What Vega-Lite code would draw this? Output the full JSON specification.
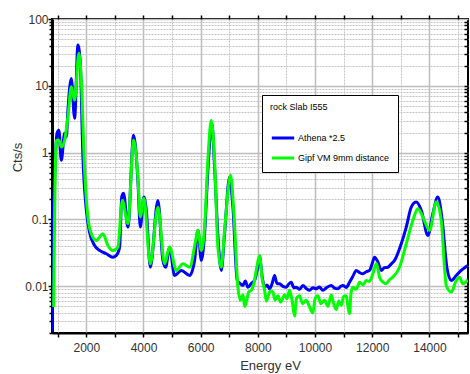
{
  "$schema": "https://vega.github.io/schema/vega-lite/v6.json",
  "width": 416,
  "height": 314,
  "autosize": {"type": "none"},
  "padding": {"left": 52, "top": 19, "right": 2, "bottom": 41},
  "background": "white",
  "config": {
    "view": {"stroke": "black", "strokeWidth": 2},
    "font": "Liberation Sans",
    "axis": {"labelFont": "Liberation Sans", "titleFont": "Liberation Sans", "labelColor": "#333", "titleColor": "#333", "titleFontWeight": "normal"}
  },
  "datasets": {
    "spec": [
      {"E": 800, "v": 0.0021, "s": "Athena *2.5"},
      {"E": 820, "v": 0.0386, "s": "Athena *2.5"},
      {"E": 891, "v": 0.385, "s": "Athena *2.5"},
      {"E": 972, "v": 1.93, "s": "Athena *2.5"},
      {"E": 1042, "v": 2.17, "s": "Athena *2.5"},
      {"E": 1126, "v": 0.769, "s": "Athena *2.5"},
      {"E": 1241, "v": 1.95, "s": "Athena *2.5"},
      {"E": 1301, "v": 1.72, "s": "Athena *2.5"},
      {"E": 1357, "v": 4.32, "s": "Athena *2.5"},
      {"E": 1475, "v": 12.9, "s": "Athena *2.5"},
      {"E": 1591, "v": 3.28, "s": "Athena *2.5"},
      {"E": 1706, "v": 40.7, "s": "Athena *2.5"},
      {"E": 1790, "v": 21.9, "s": "Athena *2.5"},
      {"E": 1881, "v": 0.862, "s": "Athena *2.5"},
      {"E": 2000, "v": 0.14, "s": "Athena *2.5"},
      {"E": 2115, "v": 0.064, "s": "Athena *2.5"},
      {"E": 2290, "v": 0.0409, "s": "Athena *2.5"},
      {"E": 2465, "v": 0.0344, "s": "Athena *2.5"},
      {"E": 2699, "v": 0.0307, "s": "Athena *2.5"},
      {"E": 2930, "v": 0.0273, "s": "Athena *2.5"},
      {"E": 3049, "v": 0.029, "s": "Athena *2.5"},
      {"E": 3165, "v": 0.0386, "s": "Athena *2.5"},
      {"E": 3240, "v": 0.22, "s": "Athena *2.5"},
      {"E": 3304, "v": 0.246, "s": "Athena *2.5"},
      {"E": 3455, "v": 0.0769, "s": "Athena *2.5"},
      {"E": 3654, "v": 1.82, "s": "Athena *2.5"},
      {"E": 3804, "v": 0.385, "s": "Athena *2.5"},
      {"E": 3888, "v": 0.0769, "s": "Athena *2.5"},
      {"E": 4014, "v": 0.217, "s": "Athena *2.5"},
      {"E": 4098, "v": 0.137, "s": "Athena *2.5"},
      {"E": 4238, "v": 0.0193, "s": "Athena *2.5"},
      {"E": 4504, "v": 0.193, "s": "Athena *2.5"},
      {"E": 4679, "v": 0.0244, "s": "Athena *2.5"},
      {"E": 4773, "v": 0.0193, "s": "Athena *2.5"},
      {"E": 4913, "v": 0.038, "s": "Athena *2.5"},
      {"E": 5088, "v": 0.0145, "s": "Athena *2.5"},
      {"E": 5322, "v": 0.0173, "s": "Athena *2.5"},
      {"E": 5612, "v": 0.0145, "s": "Athena *2.5"},
      {"E": 5787, "v": 0.0244, "s": "Athena *2.5"},
      {"E": 5903, "v": 0.069, "s": "Athena *2.5"},
      {"E": 6022, "v": 0.0244, "s": "Athena *2.5"},
      {"E": 6137, "v": 0.0612, "s": "Athena *2.5"},
      {"E": 6252, "v": 0.545, "s": "Athena *2.5"},
      {"E": 6392, "v": 2.73, "s": "Athena *2.5"},
      {"E": 6486, "v": 0.611, "s": "Athena *2.5"},
      {"E": 6602, "v": 0.0578, "s": "Athena *2.5"},
      {"E": 6721, "v": 0.0173, "s": "Athena *2.5"},
      {"E": 6836, "v": 0.0612, "s": "Athena *2.5"},
      {"E": 7011, "v": 0.432, "s": "Athena *2.5"},
      {"E": 7127, "v": 0.153, "s": "Athena *2.5"},
      {"E": 7280, "v": 0.0122, "s": "Athena *2.5"},
      {"E": 7380, "v": 0.011, "s": "Athena *2.5"},
      {"E": 7476, "v": 0.0103, "s": "Athena *2.5"},
      {"E": 7560, "v": 0.012, "s": "Athena *2.5"},
      {"E": 7651, "v": 0.0097, "s": "Athena *2.5"},
      {"E": 7770, "v": 0.011, "s": "Athena *2.5"},
      {"E": 7885, "v": 0.0122, "s": "Athena *2.5"},
      {"E": 7970, "v": 0.017, "s": "Athena *2.5"},
      {"E": 8060, "v": 0.0273, "s": "Athena *2.5"},
      {"E": 8150, "v": 0.014, "s": "Athena *2.5"},
      {"E": 8236, "v": 0.0097, "s": "Athena *2.5"},
      {"E": 8320, "v": 0.0105, "s": "Athena *2.5"},
      {"E": 8410, "v": 0.0092, "s": "Athena *2.5"},
      {"E": 8500, "v": 0.011, "s": "Athena *2.5"},
      {"E": 8585, "v": 0.0145, "s": "Athena *2.5"},
      {"E": 8670, "v": 0.011, "s": "Athena *2.5"},
      {"E": 8760, "v": 0.0109, "s": "Athena *2.5"},
      {"E": 8875, "v": 0.01, "s": "Athena *2.5"},
      {"E": 8994, "v": 0.0097, "s": "Athena *2.5"},
      {"E": 9080, "v": 0.0108, "s": "Athena *2.5"},
      {"E": 9169, "v": 0.0115, "s": "Athena *2.5"},
      {"E": 9260, "v": 0.0095, "s": "Athena *2.5"},
      {"E": 9344, "v": 0.0097, "s": "Athena *2.5"},
      {"E": 9460, "v": 0.009, "s": "Athena *2.5"},
      {"E": 9574, "v": 0.0103, "s": "Athena *2.5"},
      {"E": 9700, "v": 0.0092, "s": "Athena *2.5"},
      {"E": 9809, "v": 0.0087, "s": "Athena *2.5"},
      {"E": 9924, "v": 0.0095, "s": "Athena *2.5"},
      {"E": 10043, "v": 0.0092, "s": "Athena *2.5"},
      {"E": 10150, "v": 0.0098, "s": "Athena *2.5"},
      {"E": 10274, "v": 0.0087, "s": "Athena *2.5"},
      {"E": 10420, "v": 0.0097, "s": "Athena *2.5"},
      {"E": 10568, "v": 0.0103, "s": "Athena *2.5"},
      {"E": 10680, "v": 0.0094, "s": "Athena *2.5"},
      {"E": 10798, "v": 0.0092, "s": "Athena *2.5"},
      {"E": 10900, "v": 0.01, "s": "Athena *2.5"},
      {"E": 10973, "v": 0.0103, "s": "Athena *2.5"},
      {"E": 11090, "v": 0.0096, "s": "Athena *2.5"},
      {"E": 11207, "v": 0.0115, "s": "Athena *2.5"},
      {"E": 11320, "v": 0.014, "s": "Athena *2.5"},
      {"E": 11442, "v": 0.0173, "s": "Athena *2.5"},
      {"E": 11560, "v": 0.016, "s": "Athena *2.5"},
      {"E": 11672, "v": 0.0154, "s": "Athena *2.5"},
      {"E": 11790, "v": 0.0165, "s": "Athena *2.5"},
      {"E": 11907, "v": 0.0173, "s": "Athena *2.5"},
      {"E": 12000, "v": 0.022, "s": "Athena *2.5"},
      {"E": 12081, "v": 0.0273, "s": "Athena *2.5"},
      {"E": 12200, "v": 0.023, "s": "Athena *2.5"},
      {"E": 12316, "v": 0.0173, "s": "Athena *2.5"},
      {"E": 12430, "v": 0.019, "s": "Athena *2.5"},
      {"E": 12547, "v": 0.0193, "s": "Athena *2.5"},
      {"E": 12660, "v": 0.0215, "s": "Athena *2.5"},
      {"E": 12781, "v": 0.0244, "s": "Athena *2.5"},
      {"E": 13016, "v": 0.0434, "s": "Athena *2.5"},
      {"E": 13191, "v": 0.0769, "s": "Athena *2.5"},
      {"E": 13366, "v": 0.153, "s": "Athena *2.5"},
      {"E": 13541, "v": 0.182, "s": "Athena *2.5"},
      {"E": 13716, "v": 0.137, "s": "Athena *2.5"},
      {"E": 13946, "v": 0.0578, "s": "Athena *2.5"},
      {"E": 14120, "v": 0.122, "s": "Athena *2.5"},
      {"E": 14295, "v": 0.217, "s": "Athena *2.5"},
      {"E": 14449, "v": 0.097, "s": "Athena *2.5"},
      {"E": 14610, "v": 0.0193, "s": "Athena *2.5"},
      {"E": 14764, "v": 0.0122, "s": "Athena *2.5"},
      {"E": 14939, "v": 0.0145, "s": "Athena *2.5"},
      {"E": 15113, "v": 0.0173, "s": "Athena *2.5"},
      {"E": 15345, "v": 0.0205, "s": "Athena *2.5"},

      {"E": 857, "v": 0.0049, "s": "Gipf VM 9mm distance"},
      {"E": 891, "v": 0.109, "s": "Gipf VM 9mm distance"},
      {"E": 951, "v": 1.53, "s": "Gipf VM 9mm distance"},
      {"E": 1042, "v": 1.53, "s": "Gipf VM 9mm distance"},
      {"E": 1126, "v": 1.22, "s": "Gipf VM 9mm distance"},
      {"E": 1241, "v": 1.53, "s": "Gipf VM 9mm distance"},
      {"E": 1357, "v": 3.43, "s": "Gipf VM 9mm distance"},
      {"E": 1475, "v": 9.66, "s": "Gipf VM 9mm distance"},
      {"E": 1591, "v": 6.11, "s": "Gipf VM 9mm distance"},
      {"E": 1741, "v": 30.6, "s": "Gipf VM 9mm distance"},
      {"E": 1825, "v": 12.2, "s": "Gipf VM 9mm distance"},
      {"E": 1941, "v": 0.545, "s": "Gipf VM 9mm distance"},
      {"E": 2056, "v": 0.109, "s": "Gipf VM 9mm distance"},
      {"E": 2175, "v": 0.0612, "s": "Gipf VM 9mm distance"},
      {"E": 2350, "v": 0.0486, "s": "Gipf VM 9mm distance"},
      {"E": 2580, "v": 0.0612, "s": "Gipf VM 9mm distance"},
      {"E": 2755, "v": 0.0409, "s": "Gipf VM 9mm distance"},
      {"E": 2930, "v": 0.0344, "s": "Gipf VM 9mm distance"},
      {"E": 3105, "v": 0.0386, "s": "Gipf VM 9mm distance"},
      {"E": 3224, "v": 0.153, "s": "Gipf VM 9mm distance"},
      {"E": 3259, "v": 0.193, "s": "Gipf VM 9mm distance"},
      {"E": 3455, "v": 0.0865, "s": "Gipf VM 9mm distance"},
      {"E": 3654, "v": 1.53, "s": "Gipf VM 9mm distance"},
      {"E": 3804, "v": 0.432, "s": "Gipf VM 9mm distance"},
      {"E": 3888, "v": 0.109, "s": "Gipf VM 9mm distance"},
      {"E": 4014, "v": 0.207, "s": "Gipf VM 9mm distance"},
      {"E": 4238, "v": 0.0217, "s": "Gipf VM 9mm distance"},
      {"E": 4504, "v": 0.153, "s": "Gipf VM 9mm distance"},
      {"E": 4738, "v": 0.0217, "s": "Gipf VM 9mm distance"},
      {"E": 4913, "v": 0.0386, "s": "Gipf VM 9mm distance"},
      {"E": 5147, "v": 0.0173, "s": "Gipf VM 9mm distance"},
      {"E": 5378, "v": 0.0217, "s": "Gipf VM 9mm distance"},
      {"E": 5612, "v": 0.0193, "s": "Gipf VM 9mm distance"},
      {"E": 5847, "v": 0.0545, "s": "Gipf VM 9mm distance"},
      {"E": 5903, "v": 0.0687, "s": "Gipf VM 9mm distance"},
      {"E": 6022, "v": 0.0344, "s": "Gipf VM 9mm distance"},
      {"E": 6137, "v": 0.0769, "s": "Gipf VM 9mm distance"},
      {"E": 6252, "v": 0.769, "s": "Gipf VM 9mm distance"},
      {"E": 6371, "v": 3.06, "s": "Gipf VM 9mm distance"},
      {"E": 6486, "v": 0.769, "s": "Gipf VM 9mm distance"},
      {"E": 6602, "v": 0.0386, "s": "Gipf VM 9mm distance"},
      {"E": 6721, "v": 0.0193, "s": "Gipf VM 9mm distance"},
      {"E": 6836, "v": 0.0687, "s": "Gipf VM 9mm distance"},
      {"E": 7046, "v": 0.458, "s": "Gipf VM 9mm distance"},
      {"E": 7162, "v": 0.122, "s": "Gipf VM 9mm distance"},
      {"E": 7302, "v": 0.0097, "s": "Gipf VM 9mm distance"},
      {"E": 7390, "v": 0.0062, "s": "Gipf VM 9mm distance"},
      {"E": 7476, "v": 0.0075, "s": "Gipf VM 9mm distance"},
      {"E": 7540, "v": 0.005, "s": "Gipf VM 9mm distance"},
      {"E": 7595, "v": 0.0058, "s": "Gipf VM 9mm distance"},
      {"E": 7680, "v": 0.0082, "s": "Gipf VM 9mm distance"},
      {"E": 7770, "v": 0.0087, "s": "Gipf VM 9mm distance"},
      {"E": 7850, "v": 0.0105, "s": "Gipf VM 9mm distance"},
      {"E": 7950, "v": 0.018, "s": "Gipf VM 9mm distance"},
      {"E": 8060, "v": 0.029, "s": "Gipf VM 9mm distance"},
      {"E": 8150, "v": 0.013, "s": "Gipf VM 9mm distance"},
      {"E": 8236, "v": 0.0087, "s": "Gipf VM 9mm distance"},
      {"E": 8300, "v": 0.006, "s": "Gipf VM 9mm distance"},
      {"E": 8351, "v": 0.0069, "s": "Gipf VM 9mm distance"},
      {"E": 8430, "v": 0.0085, "s": "Gipf VM 9mm distance"},
      {"E": 8525, "v": 0.0082, "s": "Gipf VM 9mm distance"},
      {"E": 8600, "v": 0.0062, "s": "Gipf VM 9mm distance"},
      {"E": 8700, "v": 0.0072, "s": "Gipf VM 9mm distance"},
      {"E": 8800, "v": 0.0058, "s": "Gipf VM 9mm distance"},
      {"E": 8935, "v": 0.0075, "s": "Gipf VM 9mm distance"},
      {"E": 9020, "v": 0.0065, "s": "Gipf VM 9mm distance"},
      {"E": 9109, "v": 0.0087, "s": "Gipf VM 9mm distance"},
      {"E": 9200, "v": 0.006, "s": "Gipf VM 9mm distance"},
      {"E": 9284, "v": 0.0036, "s": "Gipf VM 9mm distance"},
      {"E": 9350, "v": 0.0065, "s": "Gipf VM 9mm distance"},
      {"E": 9459, "v": 0.0072, "s": "Gipf VM 9mm distance"},
      {"E": 9560, "v": 0.0055, "s": "Gipf VM 9mm distance"},
      {"E": 9693, "v": 0.0062, "s": "Gipf VM 9mm distance"},
      {"E": 9800, "v": 0.005, "s": "Gipf VM 9mm distance"},
      {"E": 9924, "v": 0.004, "s": "Gipf VM 9mm distance"},
      {"E": 10000, "v": 0.0065, "s": "Gipf VM 9mm distance"},
      {"E": 10099, "v": 0.0072, "s": "Gipf VM 9mm distance"},
      {"E": 10200, "v": 0.0055, "s": "Gipf VM 9mm distance"},
      {"E": 10333, "v": 0.0062, "s": "Gipf VM 9mm distance"},
      {"E": 10450, "v": 0.005, "s": "Gipf VM 9mm distance"},
      {"E": 10568, "v": 0.0075, "s": "Gipf VM 9mm distance"},
      {"E": 10650, "v": 0.0055, "s": "Gipf VM 9mm distance"},
      {"E": 10743, "v": 0.0045, "s": "Gipf VM 9mm distance"},
      {"E": 10830, "v": 0.006, "s": "Gipf VM 9mm distance"},
      {"E": 10917, "v": 0.0052, "s": "Gipf VM 9mm distance"},
      {"E": 11000, "v": 0.007, "s": "Gipf VM 9mm distance"},
      {"E": 11092, "v": 0.0072, "s": "Gipf VM 9mm distance"},
      {"E": 11150, "v": 0.005, "s": "Gipf VM 9mm distance"},
      {"E": 11207, "v": 0.0039, "s": "Gipf VM 9mm distance"},
      {"E": 11260, "v": 0.008, "s": "Gipf VM 9mm distance"},
      {"E": 11323, "v": 0.0097, "s": "Gipf VM 9mm distance"},
      {"E": 11440, "v": 0.009, "s": "Gipf VM 9mm distance"},
      {"E": 11557, "v": 0.0115, "s": "Gipf VM 9mm distance"},
      {"E": 11680, "v": 0.0105, "s": "Gipf VM 9mm distance"},
      {"E": 11792, "v": 0.0122, "s": "Gipf VM 9mm distance"},
      {"E": 11900, "v": 0.0118, "s": "Gipf VM 9mm distance"},
      {"E": 12022, "v": 0.0154, "s": "Gipf VM 9mm distance"},
      {"E": 12150, "v": 0.022, "s": "Gipf VM 9mm distance"},
      {"E": 12256, "v": 0.0137, "s": "Gipf VM 9mm distance"},
      {"E": 12380, "v": 0.0115, "s": "Gipf VM 9mm distance"},
      {"E": 12491, "v": 0.0109, "s": "Gipf VM 9mm distance"},
      {"E": 12600, "v": 0.0125, "s": "Gipf VM 9mm distance"},
      {"E": 12722, "v": 0.0137, "s": "Gipf VM 9mm distance"},
      {"E": 12956, "v": 0.0193, "s": "Gipf VM 9mm distance"},
      {"E": 13191, "v": 0.0434, "s": "Gipf VM 9mm distance"},
      {"E": 13422, "v": 0.097, "s": "Gipf VM 9mm distance"},
      {"E": 13597, "v": 0.145, "s": "Gipf VM 9mm distance"},
      {"E": 13772, "v": 0.109, "s": "Gipf VM 9mm distance"},
      {"E": 14005, "v": 0.0687, "s": "Gipf VM 9mm distance"},
      {"E": 14239, "v": 0.182, "s": "Gipf VM 9mm distance"},
      {"E": 14414, "v": 0.097, "s": "Gipf VM 9mm distance"},
      {"E": 14589, "v": 0.0103, "s": "Gipf VM 9mm distance"},
      {"E": 14764, "v": 0.0082, "s": "Gipf VM 9mm distance"},
      {"E": 14939, "v": 0.0122, "s": "Gipf VM 9mm distance"},
      {"E": 15054, "v": 0.0137, "s": "Gipf VM 9mm distance"},
      {"E": 15170, "v": 0.0109, "s": "Gipf VM 9mm distance"},
      {"E": 15345, "v": 0.0125, "s": "Gipf VM 9mm distance"}
    ],
    "anchor": [{"E": 8000, "v": 1}]
  },
  "resolve": {"axis": {"x": "independent", "y": "independent"}},
  "layer": [
    {
      "data": {"name": "anchor"},
      "mark": {"type": "point", "opacity": 0},
      "encoding": {
        "x": {"field": "E", "type": "quantitative",
          "scale": {"domain": [800, 15350], "nice": false, "zero": false},
          "axis": {"orient": "bottom", "values": [1000, 3000, 5000, 7000, 9000, 11000, 13000, 15000], "labels": false, "title": null, "domain": false, "tickSize": 4, "tickWidth": 1.5, "tickColor": "black",
            "grid": true, "gridColor": "#c4c4c4", "gridDash": [2, 1], "gridWidth": 1}},
        "y": {"field": "v", "type": "quantitative",
          "scale": {"type": "log", "domain": [0.002, 100], "nice": false},
          "axis": {"orient": "left", "values": [0.002, 0.003, 0.004, 0.005, 0.006, 0.007, 0.008, 0.009, 0.02, 0.03, 0.04, 0.05, 0.06, 0.07, 0.08, 0.09, 0.2, 0.3, 0.4, 0.5, 0.6, 0.7, 0.8, 0.9, 2, 3, 4, 5, 6, 7, 8, 9, 20, 30, 40, 50, 60, 70, 80, 90], "labels": false, "title": null, "domain": false, "tickSize": 3, "tickWidth": 1.5, "tickColor": "black",
            "grid": true, "gridColor": "#c4c4c4", "gridDash": [2, 1], "gridWidth": 1}}
      }
    },
    {
      "data": {"name": "anchor"},
      "mark": {"type": "point", "opacity": 0},
      "encoding": {
        "x": {"field": "E", "type": "quantitative",
          "scale": {"domain": [800, 15350], "nice": false, "zero": false},
          "axis": {"orient": "top", "values": [1000, 2000, 3000, 4000, 5000, 6000, 7000, 8000, 9000, 10000, 11000, 12000, 13000, 14000, 15000], "labels": false, "title": null, "domain": false, "grid": false, "tickSize": 4, "tickWidth": 1.5, "tickColor": "black"}},
        "y": {"field": "v", "type": "quantitative",
          "scale": {"type": "log", "domain": [0.002, 100], "nice": false},
          "axis": {"orient": "right", "values": [0.003, 0.004, 0.005, 0.006, 0.007, 0.008, 0.009, 0.01, 0.02, 0.03, 0.04, 0.05, 0.06, 0.07, 0.08, 0.09, 0.1, 0.2, 0.3, 0.4, 0.5, 0.6, 0.7, 0.8, 0.9, 1, 2, 3, 4, 5, 6, 7, 8, 9, 10, 20, 30, 40, 50, 60, 70, 80, 90], "labels": false, "title": null, "domain": false, "grid": false, "tickSize": -4, "tickWidth": 1.5, "tickColor": "black"}}
      }
    },
    {
      "data": {"name": "spec"},
      "mark": {"type": "line", "strokeWidth": 3, "clip": true, "interpolate": "monotone"},
      "encoding": {
        "x": {"field": "E", "type": "quantitative",
          "scale": {"domain": [800, 15350], "nice": false, "zero": false},
          "axis": {"orient": "bottom", "values": [2000, 4000, 6000, 8000, 10000, 12000, 14000], "format": "d", "labelFontSize": 12, "labelPadding": 5, "tickSize": 4, "tickWidth": 1.5, "tickColor": "black", "domain": true, "domainColor": "black", "domainWidth": 2,
            "grid": true, "gridColor": "#bdbdbd", "gridWidth": 1.5,
            "title": "Energy eV", "titleFontSize": 13, "titleX": 218, "titleY": 36, "titleBaseline": "alphabetic", "titleAlign": "center"}},
        "y": {"field": "v", "type": "quantitative",
          "scale": {"type": "log", "domain": [0.002, 100], "nice": false},
          "axis": {"orient": "left", "values": [0.01, 0.1, 1, 10, 100], "format": "~g", "labelFontSize": 12, "labelPadding": 0, "tickSize": 4, "tickWidth": 1.5, "tickColor": "black", "domain": true, "domainColor": "black", "domainWidth": 3,
            "grid": true, "gridColor": "#bdbdbd", "gridWidth": 1.5,
            "title": "Cts/s", "titleFontSize": 13, "titleAngle": -90, "titleX": -35, "titleY": 138, "titleAlign": "center", "titleBaseline": "middle"}},
        "color": {"field": "s", "type": "nominal",
          "scale": {"domain": ["Athena *2.5", "Gipf VM 9mm distance"], "range": ["#0000ff", "#00ff00"]},
          "legend": {"orient": "none", "legendX": 210, "legendY": 76, "title": "rock Slab I555", "titleFontSize": 9, "titleFontWeight": "normal", "titleColor": "black", "titleFont": "Liberation Sans", "titlePadding": 13,
            "labelFontSize": 9, "labelColor": "black", "labelFont": "Liberation Sans", "labelOffset": 2, "labelLimit": 200,
            "symbolType": "stroke", "symbolStrokeWidth": 3, "symbolSize": 500, "rowPadding": 1,
            "fillColor": "white", "strokeColor": "black", "padding": 8}}
      }
    }
  ]
}
